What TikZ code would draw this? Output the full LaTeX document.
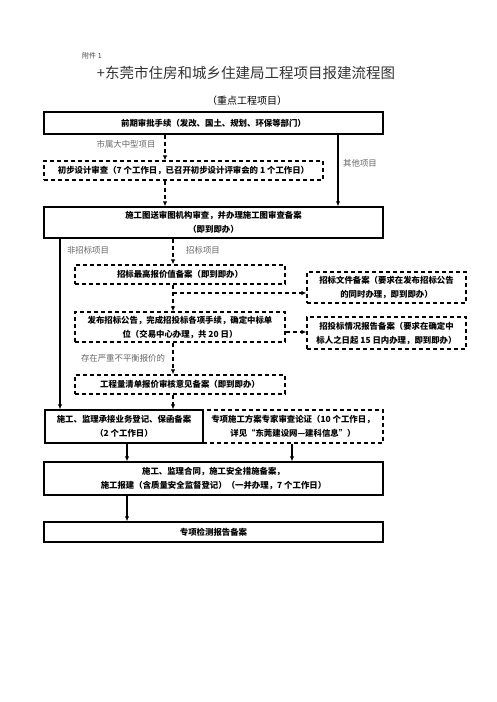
\documentclass[tikz,border=0pt]{standalone}
\usepackage{fontspec}
\setmainfont{Noto Sans CJK SC}
\usetikzlibrary{arrows.meta,calc}
\newcommand{\bxfont}{\fontsize{8.4}{14}\selectfont\bfseries}
\newcommand{\lbfont}{\fontsize{8.4}{12}\selectfont}
\begin{document}
\begin{tikzpicture}[x=1pt,y=-1pt,
  box/.style={draw,line width=1.4pt,align=center,inner sep=0pt,font=\bxfont},
  dbox/.style={box,line width=1.3pt,dash pattern=on 4pt off 3pt},
  conn/.style={line width=1.3pt,-{Latex[length=5pt,width=4.5pt]}},
  dconn/.style={conn,dash pattern=on 4pt off 3pt},
  lbl/.style={font=\lbfont,text=black!60,inner sep=0pt}]
\useasboundingbox (0,0) rectangle (496,702);
% titles
\node[anchor=west,font=\fontsize{7}{8}\selectfont,text=black!75,inner sep=0pt] (att) at (82,56) {附件 1};
\node[font=\fontsize{14.5}{16}\selectfont,text=black!80,inner sep=0pt] (title) at (246,73) {+东莞市住房和城乡住建局工程项目报建流程图};
\node[font=\fontsize{10}{12}\selectfont,inner sep=0pt] (sub) at (247,101) {（重点工程项目）};
% boxes
\node[box,minimum width=339,minimum height=22] (b1) at (213.5,123) {前期审批手续（发改、国土、规划、环保等部门）};
\node[dbox,minimum width=279,minimum height=19] (b2) at (183.5,170.5) {初步设计审查（7 个工作日，已召开初步设计评审会的 1 个工作日）};
\node[box,minimum width=339,minimum height=31] (b3) at (213.5,222.5) {施工图送审图机构审查，并办理施工图审查备案\\（即到即办）};
\node[dbox,minimum width=210,minimum height=19] (b5) at (180,274.5) {招标最高报价值备案（即到即办）};
\node[dbox,minimum width=159,minimum height=31] (b7) at (386.5,287.5) {招标文件备案（要求在发布招标公告\\的同时办理，即到即办）};
\node[dbox,minimum width=210,minimum height=30] (b6) at (180,327) {发布招标公告，完成招投标各项手续，确定中标单\\位（交易中心办理，共 20 日）};
\node[dbox,minimum width=159,minimum height=32] (b8) at (386.5,333) {招投标情况报告备案（要求在确定中\\标人之日起 15 日内办理，即到即办）};
\node[dbox,minimum width=210,minimum height=19] (b9) at (180,384.5) {工程量清单报价审核意见备案（即到即办）};
\node[dbox,minimum width=180,minimum height=33] (b11) at (293,426.5) {专项施工方案专家审查论证（10 个工作日，\\详见“东莞建设网—建科信息”）};
\node[box,minimum width=158,minimum height=33] (b10) at (124,426.5) {施工、监理承接业务登记、保函备案\\（2 个工作日）};
\node[box,minimum width=339,minimum height=33] (b12) at (213.5,478.5) {施工、监理合同，施工安全措施备案，\\施工报建（含质量安全监督登记）（一并办理，7 个工作日）};
\node[box,minimum width=339,minimum height=20] (b13) at (213.5,532) {专项检测报告备案};
% helper coordinates
\coordinate (xa) at (165,0);
\coordinate (xo) at (338,0);
\coordinate (xl) at (60,0);
\coordinate (xb) at (173,0);
\coordinate (xc) at (127,0);
\coordinate (xd) at (292,0);
\coordinate (ybr) at (0,293);
\coordinate (y68) at (0,332);
\coordinate (br) at (xb |- ybr);
% connectors
\draw[dconn] (xa |- b1.south) -- (xa |- b2.north);
\draw[dconn] (xa |- b2.south) -- (xa |- b3.north);
\draw[conn] (xo |- b1.south) -- (xo |- b3.north);
\draw[conn] (xl |- b3.south) -- (xl |- b10.north);
\draw[dconn] (xb |- b3.south) -- (xb |- b5.north);
\draw[dconn] (xb |- b5.south) -- (xb |- b6.north);
\draw[dconn] (br) -- (b7.west |- br);
\draw[dconn] (b6.east |- y68) -- (b8.west |- y68);
\draw[dconn] (xb |- b6.south) -- (xb |- b9.north);
\draw[dconn] (xb |- b9.south) -- (xb |- b10.north);
\draw[conn] (xc |- b10.south) -- (xc |- b12.north);
\draw[conn] (xd |- b11.south) -- (xd |- b12.north);
\draw[conn] (xc |- b12.south) -- (xc |- b13.north);
% labels
\node[lbl] (l1) at (126,144) {市属大中型项目};
\node[lbl] (l2) at (360,163) {其他项目};
\node[lbl] (l3) at (88,250) {非招标项目};
\node[lbl] (l4) at (203,250) {招标项目};
\node[lbl] (l5) at (123,358) {存在严重不平衡报价的};
\end{tikzpicture}
\end{document}
